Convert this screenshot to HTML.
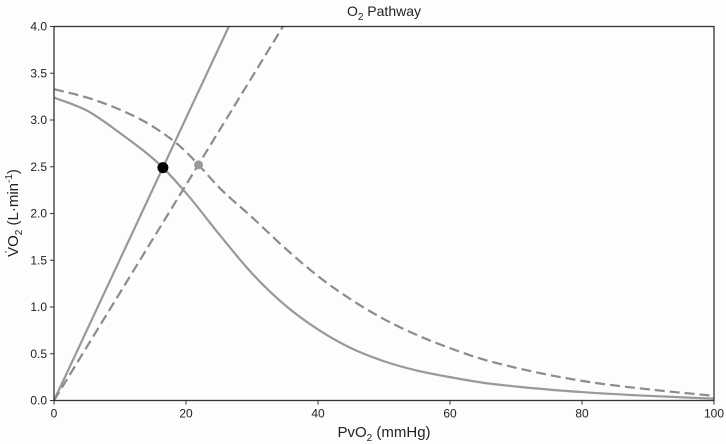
<!DOCTYPE html>
<html><head><meta charset="utf-8"><style>
body{margin:0;background:#fff;}
svg{display:block;font-family:"Liberation Sans",sans-serif;}
</style></head><body>
<svg id="chart" width="726" height="444" viewBox="0 0 726 444">
<rect x="0" y="0" width="726" height="444" fill="#fdfdfd"/>
<g id="marks"></g>
<g id="axes"></g>
<text x="384" y="16" font-size="14" text-anchor="middle" fill="#222">O<tspan font-size="10" dy="4">2</tspan><tspan dy="-4"> Pathway</tspan></text>
<text x="384" y="437" font-size="15" text-anchor="middle" fill="#222">PvO<tspan font-size="10" dy="4">2</tspan><tspan dy="-4"> (mmHg)</tspan></text>
<text transform="translate(18,213) rotate(-90)" font-size="15" text-anchor="middle" fill="#222">V̇O<tspan font-size="10" dy="4">2</tspan><tspan dy="-4"> (L·min</tspan><tspan font-size="10" dy="-6">-1</tspan><tspan dy="6">)</tspan></text>
</svg>
<script>
const xTicks=[0,20,40,60,80,100];
const yTicks=[0.0,0.5,1.0,1.5,2.0,2.5,3.0,3.5,4.0];
const solidCurveX=[0,5,10,16.5,20,25,30,35,40,45,50,55,60,65,70,80,90,100];
const solidCurveY=[3.24,3.10,2.86,2.49,2.22,1.78,1.36,1.02,0.76,0.56,0.42,0.32,0.25,0.19,0.15,0.09,0.05,0.02];
const dashedCurveX=[0,5,10,15,20,21.9,25,30,35,40,45,50,55,60,65,70,80,90,100];
const dashedCurveY=[3.33,3.24,3.11,2.93,2.66,2.52,2.28,1.96,1.63,1.33,1.08,0.87,0.70,0.56,0.44,0.35,0.21,0.12,0.05];
const solidLineSlope=[0.151];
const dashedLineSlope=[0.1153];
const solidPoint=[16.5,2.49];
const dashedPoint=[21.9,2.52];
const X0=54,X1=714,Y0=400.5,Y1=26.5;
const sx=v=>X0+(v/100)*(X1-X0);
const sy=v=>Y0-(v/4)*(Y0-Y1);
const NS='http://www.w3.org/2000/svg';
const marks=document.getElementById('marks'),axes=document.getElementById('axes');
function mk(tag,attrs,parent){const e=document.createElementNS(NS,tag);for(const k in attrs)e.setAttribute(k,attrs[k]);parent.appendChild(e);return e;}
function smoothPath(xs,ys){
  const n=xs.length,px=xs.map(sx),py=ys.map(sy);
  const m=[];for(let i=0;i<n;i++){if(i===0)m.push((py[1]-py[0])/(px[1]-px[0]));else if(i===n-1)m.push((py[n-1]-py[n-2])/(px[n-1]-px[n-2]));else m.push(((py[i+1]-py[i])/(px[i+1]-px[i])*(px[i]-px[i-1])+(py[i]-py[i-1])/(px[i]-px[i-1])*(px[i+1]-px[i]))/(px[i+1]-px[i-1]));}
  let d='M'+px[0]+','+py[0];
  for(let i=0;i<n-1;i++){const h=(px[i+1]-px[i])/3;d+=' C'+(px[i]+h)+','+(py[i]+m[i]*h)+' '+(px[i+1]-h)+','+(py[i+1]-m[i+1]*h)+' '+px[i+1]+','+py[i+1];}
  return d;
}
const clip=mk('clipPath',{id:'pc'},marks);mk('rect',{x:X0,y:Y1,width:X1-X0,height:Y0-Y1},clip);
const g=mk('g',{'clip-path':'url(#pc)'},marks);
let e;
e=mk('path',{d:smoothPath(solidCurveX,solidCurveY),fill:'none',stroke:'#999',"stroke-width":2.2},g);


e=mk('path',{d:smoothPath(dashedCurveX,dashedCurveY),fill:'none',stroke:'#8c8c8c',"stroke-width":2.2,"stroke-dasharray":"10,5"},g);


e=mk('line',{x1:sx(0),y1:sy(0),x2:sx(4.2/solidLineSlope[0]),y2:sy(4.2),stroke:'#999',"stroke-width":2.2},g);


e=mk('line',{x1:sx(0),y1:sy(0),x2:sx(4.2/dashedLineSlope[0]),y2:sy(4.2),stroke:'#8c8c8c',"stroke-width":2.2,"stroke-dasharray":"10,5"},g);


e=mk('circle',{cx:sx(dashedPoint[0]),cy:sy(dashedPoint[1]),r:4.5,fill:'#999'},g);


e=mk('circle',{cx:sx(solidPoint[0]),cy:sy(solidPoint[1]),r:5.5,fill:'#000'},g);


e=mk('rect',{x:X0,y:Y1,width:X1-X0,height:Y0-Y1,fill:'none',stroke:'#333',"stroke-width":1.3},axes);


xTicks.forEach(t=>{
  mk('line',{x1:sx(t),y1:Y0,x2:sx(t),y2:Y0+4,stroke:'#333'},axes);
  e=mk('text',{x:sx(t),y:Y0+17,"font-size":12,"text-anchor":"middle",fill:'#222'},axes);
  e.textContent=t;
  
  
});
yTicks.forEach(t=>{
  mk('line',{x1:X0-4,y1:sy(t),x2:X0,y2:sy(t),stroke:'#333'},axes);
  e=mk('text',{x:X0-7,y:sy(t)+4,"font-size":12,"text-anchor":"end",fill:'#222'},axes);
  e.textContent=t.toFixed(1);
  
  
});
</script>
</body></html>
